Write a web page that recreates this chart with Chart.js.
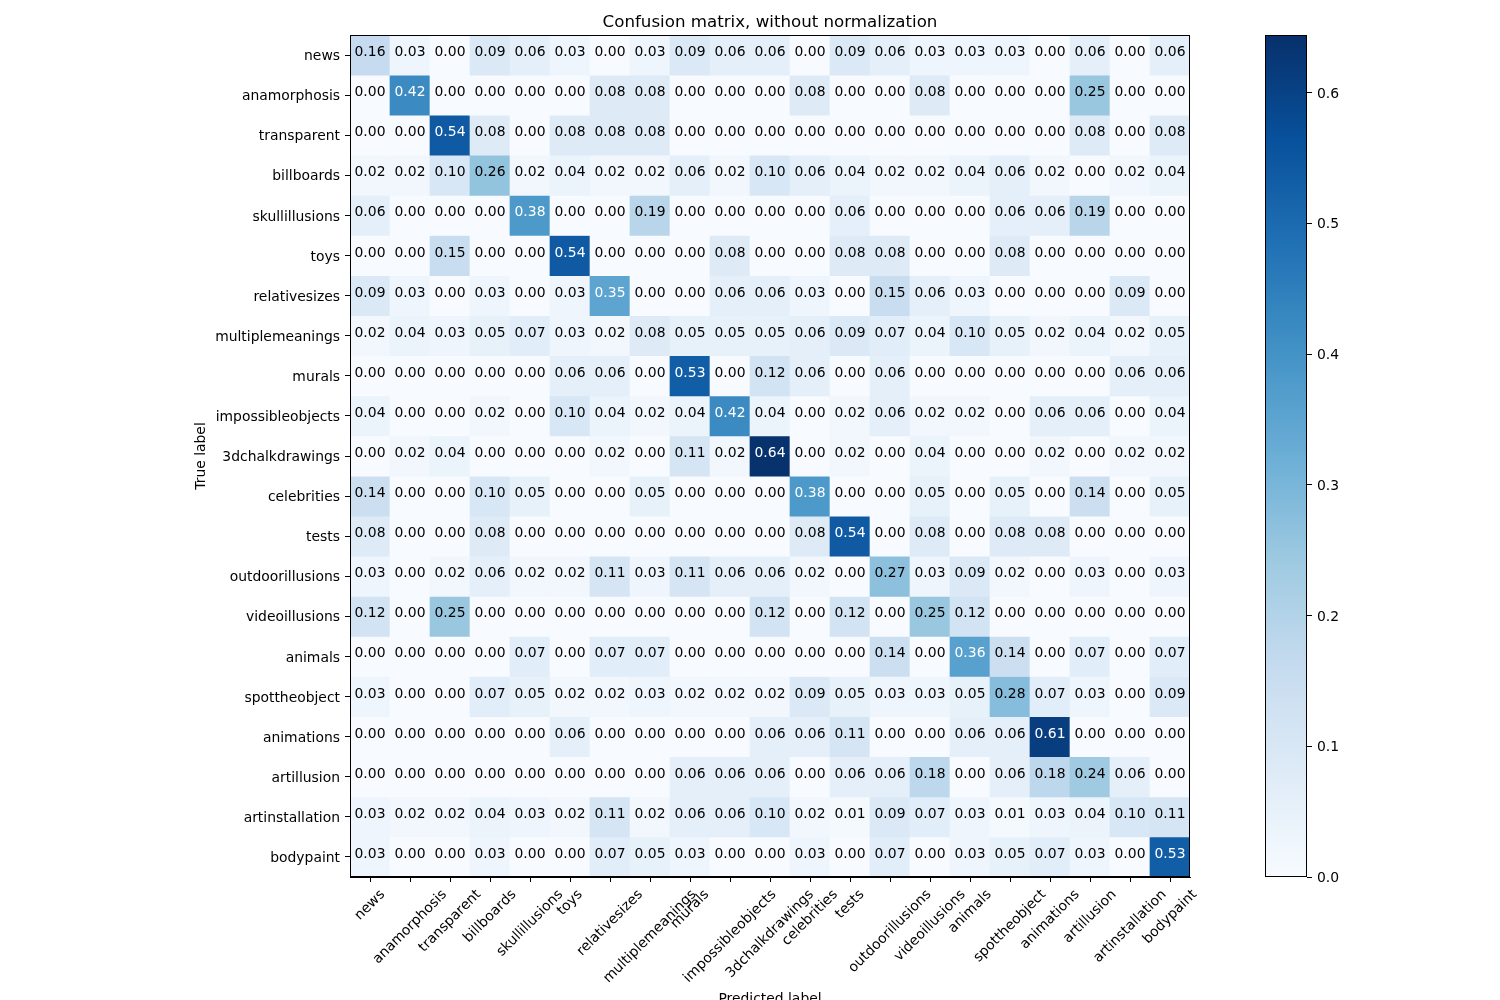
<!DOCTYPE html>
<html>
<head>
<meta charset="utf-8">
<script src="https://cdn.jsdelivr.net/npm/chart.js@4.4.1/dist/chart.umd.min.js"></script>
<style>
html,body{margin:0;padding:0;background:#fff;}
#wrap{position:relative;width:1500px;height:1000px;overflow:hidden;}
#wrap canvas{position:absolute;left:0;top:0;}
</style>
</head>
<body>
<div id="wrap">
<canvas id="main" width="1500" height="1000"></canvas>
<canvas id="cbar" width="1500" height="1000"></canvas>
</div>
<script>
// ---------- data ----------
const categories = ['news','anamorphosis','transparent','billboards','skullillusions','toys','relativesizes','multiplemeanings','murals','impossibleobjects','3dchalkdrawings','celebrities','tests','outdoorillusions','videoillusions','animals','spottheobject','animations','artillusion','artinstallation','bodypaint'];

const rowNews             = [0.16,0.03,0.00,0.09,0.06,0.03,0.00,0.03,0.09,0.06,0.06,0.00,0.09,0.06,0.03,0.03,0.03,0.00,0.06,0.00,0.06];
const rowAnamorphosis     = [0.00,0.42,0.00,0.00,0.00,0.00,0.08,0.08,0.00,0.00,0.00,0.08,0.00,0.00,0.08,0.00,0.00,0.00,0.25,0.00,0.00];
const rowTransparent      = [0.00,0.00,0.54,0.08,0.00,0.08,0.08,0.08,0.00,0.00,0.00,0.00,0.00,0.00,0.00,0.00,0.00,0.00,0.08,0.00,0.08];
const rowBillboards       = [0.02,0.02,0.10,0.26,0.02,0.04,0.02,0.02,0.06,0.02,0.10,0.06,0.04,0.02,0.02,0.04,0.06,0.02,0.00,0.02,0.04];
const rowSkullillusions   = [0.06,0.00,0.00,0.00,0.38,0.00,0.00,0.19,0.00,0.00,0.00,0.00,0.06,0.00,0.00,0.00,0.06,0.06,0.19,0.00,0.00];
const rowToys             = [0.00,0.00,0.15,0.00,0.00,0.54,0.00,0.00,0.00,0.08,0.00,0.00,0.08,0.08,0.00,0.00,0.08,0.00,0.00,0.00,0.00];
const rowRelativesizes    = [0.09,0.03,0.00,0.03,0.00,0.03,0.35,0.00,0.00,0.06,0.06,0.03,0.00,0.15,0.06,0.03,0.00,0.00,0.00,0.09,0.00];
const rowMultiplemeanings = [0.02,0.04,0.03,0.05,0.07,0.03,0.02,0.08,0.05,0.05,0.05,0.06,0.09,0.07,0.04,0.10,0.05,0.02,0.04,0.02,0.05];
const rowMurals           = [0.00,0.00,0.00,0.00,0.00,0.06,0.06,0.00,0.53,0.00,0.12,0.06,0.00,0.06,0.00,0.00,0.00,0.00,0.00,0.06,0.06];
const rowImpossible       = [0.04,0.00,0.00,0.02,0.00,0.10,0.04,0.02,0.04,0.42,0.04,0.00,0.02,0.06,0.02,0.02,0.00,0.06,0.06,0.00,0.04];
const rowChalk            = [0.00,0.02,0.04,0.00,0.00,0.00,0.02,0.00,0.11,0.02,0.64,0.00,0.02,0.00,0.04,0.00,0.00,0.02,0.00,0.02,0.02];
const rowCelebrities      = [0.14,0.00,0.00,0.10,0.05,0.00,0.00,0.05,0.00,0.00,0.00,0.38,0.00,0.00,0.05,0.00,0.05,0.00,0.14,0.00,0.05];
const rowTests            = [0.08,0.00,0.00,0.08,0.00,0.00,0.00,0.00,0.00,0.00,0.00,0.08,0.54,0.00,0.08,0.00,0.08,0.08,0.00,0.00,0.00];
const rowOutdoor          = [0.03,0.00,0.02,0.06,0.02,0.02,0.11,0.03,0.11,0.06,0.06,0.02,0.00,0.27,0.03,0.09,0.02,0.00,0.03,0.00,0.03];
const rowVideo            = [0.12,0.00,0.25,0.00,0.00,0.00,0.00,0.00,0.00,0.00,0.12,0.00,0.12,0.00,0.25,0.12,0.00,0.00,0.00,0.00,0.00];
const rowAnimals          = [0.00,0.00,0.00,0.00,0.07,0.00,0.07,0.07,0.00,0.00,0.00,0.00,0.00,0.14,0.00,0.36,0.14,0.00,0.07,0.00,0.07];
const rowSpot             = [0.03,0.00,0.00,0.07,0.05,0.02,0.02,0.03,0.02,0.02,0.02,0.09,0.05,0.03,0.03,0.05,0.28,0.07,0.03,0.00,0.09];
const rowAnimations       = [0.00,0.00,0.00,0.00,0.00,0.06,0.00,0.00,0.00,0.00,0.06,0.06,0.11,0.00,0.00,0.06,0.06,0.61,0.00,0.00,0.00];
const rowArtillusion      = [0.00,0.00,0.00,0.00,0.00,0.00,0.00,0.00,0.06,0.06,0.06,0.00,0.06,0.06,0.18,0.00,0.06,0.18,0.24,0.06,0.00];
const rowArtinstallation  = [0.03,0.02,0.02,0.04,0.03,0.02,0.11,0.02,0.06,0.06,0.10,0.02,0.01,0.09,0.07,0.03,0.01,0.03,0.04,0.10,0.11];
const rowBodypaint        = [0.03,0.00,0.00,0.03,0.00,0.00,0.07,0.05,0.03,0.00,0.00,0.03,0.00,0.07,0.00,0.03,0.05,0.07,0.03,0.00,0.53];

const matrixRows = [rowNews,rowAnamorphosis,rowTransparent,rowBillboards,rowSkullillusions,rowToys,rowRelativesizes,rowMultiplemeanings,rowMurals,rowImpossible,rowChalk,rowCelebrities,rowTests,rowOutdoor,rowVideo,rowAnimals,rowSpot,rowAnimations,rowArtillusion,rowArtinstallation,rowBodypaint];

const colorbarTicks = [0.0,0.1,0.2,0.3,0.4,0.5,0.6];
const vmax = 0.644;

// ---------- Blues colormap ----------
const bluesStops = ['#f7fbff','#deebf7','#c6dbef','#9ecae1','#6baed6','#4292c6','#2171b5','#08519c','#08306b'];
function hexToRgb(h){return [parseInt(h.substr(1,2),16),parseInt(h.substr(3,2),16),parseInt(h.substr(5,2),16)];}
const bluesRgb = bluesStops.map(hexToRgb);
function blues(t){
  t = Math.max(0, Math.min(1, t));
  const n = bluesRgb.length - 1;
  const p = t * n;
  const i = Math.min(Math.floor(p), n - 1);
  const f = p - i;
  const a = bluesRgb[i], b = bluesRgb[i+1];
  const c = a.map((v,k)=>Math.round(v + (b[k]-v)*f));
  return 'rgb(' + c.join(',') + ')';
}

const FONT = 'DejaVu Sans';
const FS = 13.9;
Chart.defaults.font.family = FONT;
Chart.defaults.font.size = FS;
Chart.defaults.color = '#000';

// ---------- plugins ----------
const frame = {
  id: 'frame',
  afterDraw(chart){
    const a = chart.chartArea, ctx = chart.ctx;
    ctx.save();
    ctx.strokeStyle = '#000';
    ctx.lineWidth = 1;
    ctx.strokeRect(Math.round(a.left)+0.5, Math.round(a.top)+0.5, Math.round(a.right-a.left)-1, Math.round(a.bottom-a.top)-1);
    ctx.restore();
  }
};

const cellText = {
  id: 'cellText',
  afterDatasetsDraw(chart){
    const ctx = chart.ctx;
    ctx.save();
    ctx.font = FS + 'px "' + FONT + '"';
    ctx.textAlign = 'center';
    ctx.textBaseline = 'alphabetic';
    chart.data.datasets.forEach((ds, r) => {
      const meta = chart.getDatasetMeta(r);
      meta.data.forEach((bar, c) => {
        const v = matrixRows[r][c];
        const p = bar.getProps(['x','y','base'], true);
        ctx.fillStyle = v > vmax/2 ? '#fff' : '#000';
        ctx.fillText(v.toFixed(2), p.x, (p.y + p.base)/2 + 1);
      });
    });
    ctx.restore();
  }
};

const xLabels = {
  id: 'xLabels',
  afterDraw(chart){
    const s = chart.scales.x, ctx = chart.ctx;
    ctx.save();
    ctx.font = FS + 'px "' + FONT + '"';
    ctx.fillStyle = '#000';
    ctx.textAlign = 'center';
    ctx.textBaseline = 'middle';
    const h = 16.2, pad = 9.7;
    s.ticks.forEach((t, i) => {
      const label = categories[i];
      const w = ctx.measureText(label).width;
      const x = s.getPixelForTick(i);
      const half = (w + h) * Math.SQRT1_2 / 2;
      ctx.save();
      ctx.translate(x, s.top + pad + half);
      ctx.rotate(-Math.PI/4);
      ctx.fillText(label, 0, 0);
      ctx.restore();
    });
    ctx.restore();
  }
};

// ---------- main matrix ----------
new Chart(document.getElementById('main'), {
  type: 'bar',
  data: {
    labels: categories,
    datasets: matrixRows.map((row, r) => ({
      label: categories[r],
      data: row.map(() => [r, r + 1]),
      backgroundColor: row.map(v => blues(v / vmax)),
      borderWidth: 0,
      barPercentage: 1,
      categoryPercentage: 1,
      grouped: false
    }))
  },
  options: {
    responsive: false,
    animation: false,
    devicePixelRatio: 1,
    layout: {padding: {left: 189, right: 310, top: 0, bottom: 0}},
    plugins: {
      legend: {display: false},
      tooltip: {enabled: false},
      title: {
        display: true,
        text: 'Confusion matrix, without normalization',
        fullSize: false,
        color: '#000',
        font: {family: FONT, size: 16.67, weight: 'normal', lineHeight: 1.2},
        padding: {top: 13, bottom: 2}
      }
    },
    scales: {
      x: {
        type: 'category',
        offset: true,
        grid: {offset: false, drawOnChartArea: false, drawTicks: true, tickLength: 5, color: '#000'},
        border: {display: true, color: '#000', width: 1},
        ticks: {display: false, autoSkip: false},
        title: {display: true, text: 'Predicted label', color: '#000', font: {family: FONT, size: FS}, padding: {top: 0, bottom: -8}},
        afterFit: s => { s.height = 123; }
      },
      y: {
        type: 'linear',
        min: 0,
        max: 21,
        reverse: true,
        afterBuildTicks: s => { s.ticks = categories.map((_, i) => ({value: i + 0.5})); },
        ticks: {autoSkip: false, padding: 5, labelOffset: 1.5, color: '#000', font: {family: FONT, size: FS}, callback: v => categories[Math.floor(v)]},
        grid: {drawOnChartArea: false, drawTicks: true, tickLength: 5, color: '#000'},
        border: {display: true, color: '#000', width: 1},
        title: {display: true, text: 'True label', color: '#000', font: {family: FONT, size: FS}, padding: {top: 4, bottom: 4}},
        afterFit: s => { s.width = 161; }
      }
    }
  },
  plugins: [cellText, xLabels, frame]
});

// ---------- colorbar ----------
new Chart(document.getElementById('cbar'), {
  type: 'bar',
  data: {
    labels: [''],
    datasets: [{
      data: [[0, vmax]],
      backgroundColor: (c) => {
        const ca = c.chart.chartArea;
        if (!ca) return 'rgba(0,0,0,0)';
        const g = c.chart.ctx.createLinearGradient(0, ca.bottom, 0, ca.top);
        bluesStops.forEach((col, i) => g.addColorStop(i / (bluesStops.length - 1), col));
        return g;
      },
      borderWidth: 0,
      barPercentage: 1,
      categoryPercentage: 1
    }]
  },
  options: {
    responsive: false,
    animation: false,
    devicePixelRatio: 1,
    layout: {padding: {left: 1265, right: 133, top: 35, bottom: 123}},
    plugins: {legend: {display: false}, tooltip: {enabled: false}},
    scales: {
      x: {display: false},
      y: {
        position: 'right',
        min: 0,
        max: vmax,
        afterBuildTicks: s => { s.ticks = colorbarTicks.map(v => ({value: v})); },
        ticks: {padding: 5, labelOffset: 1.5, color: '#000', font: {family: FONT, size: FS}, callback: v => v.toFixed(1)},
        grid: {drawOnChartArea: false, drawTicks: true, tickLength: 5, color: '#000'},
        border: {display: false},
        afterFit: s => { s.width = 60; }
      }
    }
  },
  plugins: [frame]
});
</script>
</body>
</html>
